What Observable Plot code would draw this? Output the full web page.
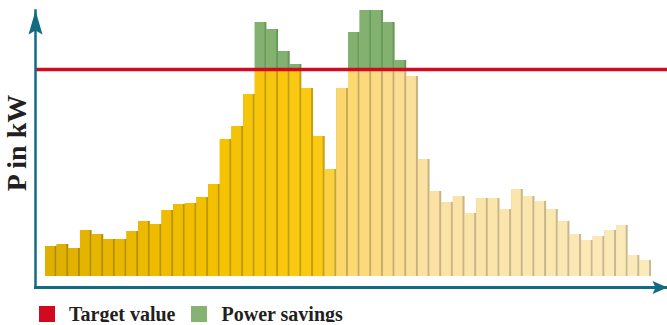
<!DOCTYPE html>
<html><head><meta charset="utf-8">
<script src="https://cdn.jsdelivr.net/npm/d3@7"></script>
<script src="https://cdn.jsdelivr.net/npm/@observablehq/plot@0.6"></script>
<style>
body{margin:0;background:#fff;}
#legend{display:flex;align-items:center;height:16px;margin-top:6px;padding-left:39px;font-family:"Liberation Serif",serif;font-weight:bold;font-size:20px;color:#231f20;line-height:16px;}
.sw{display:inline-block;width:16px;height:16px;margin-right:14px}
</style></head><body>
<div id="chart"></div>
<div id="legend"><span class="sw" style="background:#d2091f"></span><span>Target value</span><span class="sw" style="background:#86b273;margin-left:16px"></span><span>Power savings</span></div>
<script>
// Time periods (categories)
const periods = [1,2,3,4,5,6,7,8,9,10,11,12,13,14,15,16,17,18,19,20,21,22,23,24,25,26,
  27,28,29,30,31,32,33,34,35,36,37,38,39,40,41,42,43,44,45,46,47,48,49,50,51,52];
// Power demand per period (kW)
const power = [30,32,28,46,42,37,37,45,55,52,66,72,73,79,92,137,150,182,254,247,225,212,188,140,107,188,
  244,266,266,254,216,200,117,85,74,80,63,78,78,67,87,80,75,67,55,42,36,40,46,51,21,16];
// Target value (kW)
const target = 207;
const yMax = 266;

const data = periods.map((p, i) => ({period: p, idx: i, value: power[i], base: Math.min(power[i], target)}));
const over = data.filter(d => d.value > target);

const ramp = d3.scaleLinear()
  .domain([0, 13, 23, 25, 32, 51])
  .range(["#e0b000", "#f3c000", "#fbca14", "#fdd76b", "#fbe2a3", "#fbeaba"]);
const fillOf = d => d3.color(ramp(d.idx)).formatHex();
const shadeOf = d => d3.color(ramp(d.idx)).darker(0.65).formatHex();

const chart = Plot.plot({
  width: 667, height: 300,
  marginLeft: 35, marginRight: 0, marginTop: 10, marginBottom: 13,
  x: {type: "band", domain: periods, range: [45, 651], padding: 0, axis: null},
  y: {domain: [0, yMax], range: [276, 10], axis: null},
  marks: [
    Plot.barY(data, {x: "period", y1: 0, y2: "base", fill: shadeOf}),
    Plot.barY(data, {x: "period", y1: 0, y2: "base", fill: fillOf, insetRight: 2}),
    Plot.barY(over, {x: "period", y1: target, y2: "value", fill: "#679a5b"}),
    Plot.barY(over, {x: "period", y1: target, y2: "value", fill: "#82b170", insetRight: 2}),
    Plot.ruleY([target], {stroke: "#d2091f", strokeWidth: 3.5}),
    Plot.frame({anchor: "left", stroke: "#136b82", strokeWidth: 2.5}),
    Plot.frame({anchor: "bottom", stroke: "#136b82", strokeWidth: 3}),
    Plot.text(["P in kW"], {text: d => d, frameAnchor: "left", textAnchor: "middle", rotate: -90, dx: -18, dy: -6,
      fontSize: 28, fontWeight: "bold", fontFamily: "Liberation Serif", fill: "#231f20"})
  ]
});
document.getElementById("chart").appendChild(chart);

// arrowheads on the axis lines
d3.select(chart).selectAll("line").filter(function(){ return this.closest('[aria-label="frame"]'); }).each(function(){
  const l = d3.select(this);
  const x1 = +l.attr("x1"), x2 = +l.attr("x2"), y1 = +l.attr("y1"), y2 = +l.attr("y2");
  let pts;
  if (Math.abs(x1 - x2) < 0.01) {
    const top = Math.min(y1, y2), x = x1;
    pts = [[x, top], [x + 7, top + 24], [x, top + 20], [x - 7, top + 24]];
  } else {
    const right = Math.max(x1, x2), y = y1;
    pts = [[right, y], [right - 15, y + 6.5], [right - 12, y], [right - 15, y - 6.5]];
  }
  d3.select(this.parentNode).append("polygon")
    .attr("points", pts.map(p => p.join(",")).join(" "))
    .attr("fill", "#136b82")
    .attr("transform", l.attr("transform"));
});
</script>
</body></html>
